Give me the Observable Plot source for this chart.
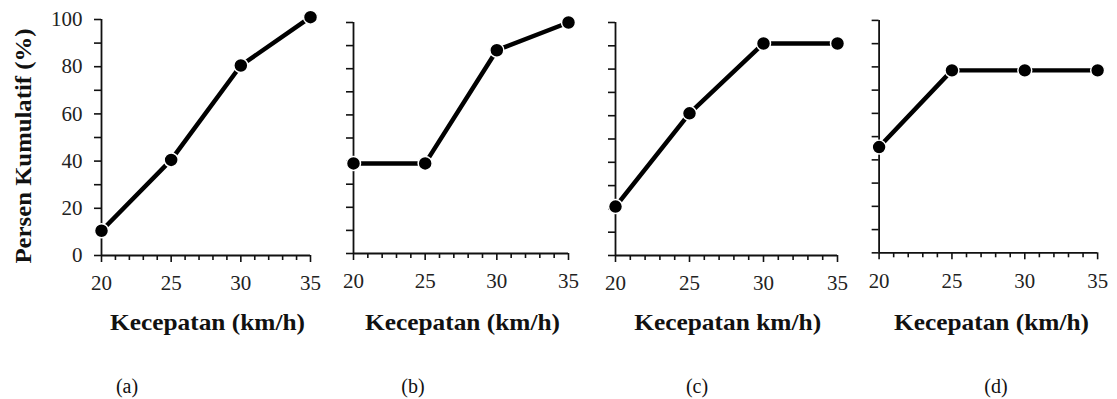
<!DOCTYPE html>
<html><head><meta charset="utf-8">
<script src="https://cdn.jsdelivr.net/npm/d3@7"></script>
<script src="https://cdn.jsdelivr.net/npm/@observablehq/plot@0.6"></script>
<style>
body{margin:0;background:#fff;}
#wrap{position:relative;width:1117px;height:399px;overflow:hidden;font-family:"Liberation Serif","Times New Roman",serif;color:#111;}
.panel{position:absolute;}
.panel svg{overflow:visible;}
.panel svg text{font-family:"Liberation Serif","Times New Roman",serif !important;}
.t{position:absolute;white-space:nowrap;line-height:1;font-family:"Liberation Serif","Times New Roman",serif;}
.xt{font-weight:bold;font-size:23px;}
.yt{font-weight:bold;font-size:24px;}
.cap{font-size:20px;}
</style></head><body><div id="wrap"></div>
<script>
// Data
const speeds = [20, 25, 30, 35];
const panelA = [10.5, 40.5, 80.5, 101];
const panelB = [39, 39, 88, 100];
const panelC = [21, 61, 91, 91];
const panelD = [45.5, 78.5, 78.5, 78.5];
const yMajorTicks = [0, 20, 40, 60, 80, 100];
const yMinorTicks = [10, 30, 50, 70, 90];
const xMajorTicks = [20, 25, 30, 35];
const xMinorTicks = [21, 22, 23, 24, 26, 27, 28, 29, 31, 32, 33, 34];
const yTitle = "Persen Kumulatif (%)";
const xTitles = ["Kecepatan (km/h)", "Kecepatan (km/h)", "Kecepatan km/h)", "Kecepatan (km/h)"];
const captions = ["(a)", "(b)", "(c)", "(d)"];
const series = [panelA, panelB, panelC, panelD];

// layout of each panel's plotting frame (left,right,top,bottom in page px)
const frames = [
  {l:101, r:310, t:19, b:255},
  {l:353, r:568, t:22, b:253},
  {l:615, r:837, t:22, b:255},
  {l:879, r:1099, t:20, b:254}
];
const captionX = [127, 413, 697, 996];
const serif = '"Liberation Serif", "Times New Roman", serif';

const wrap = document.getElementById("wrap");
const mL = 60, mR = 20, mT = 15, mB = 50;

series.forEach((vals, i) => {
  const f = frames[i];
  const data = speeds.map((s, k) => ({x: s, y: vals[k]}));
  const showY = i === 0;
  const chart = Plot.plot({
    width: mL + (f.r - f.l) + mR,
    height: mT + (f.b - f.t) + mB,
    marginLeft: mL, marginRight: mR, marginTop: mT, marginBottom: mB,
    x: {domain: [20, 35]},
    y: {domain: [0, 100]},
    style: {fontFamily: serif, fontSize: "21px", color: "#222", background: "transparent", overflow: "visible"},
    marks: [
      Plot.axisY(yMinorTicks, {tickSize: 7, stroke: "#111", strokeWidth: 1.6, tickFormat: () => "", label: null}),
      Plot.axisY(yMajorTicks, {tickSize: 7, stroke: "#111", strokeWidth: 1.6, tickPadding: 12, tickFormat: showY ? (d => d) : (() => ""), label: null}),
      Plot.axisX(xMinorTicks, {tickSize: 5, stroke: "#111", strokeWidth: 1.6, tickFormat: () => "", label: null}),
      Plot.axisX(xMajorTicks, {tickSize: 7, stroke: "#111", strokeWidth: 1.6, tickPadding: 13, tickFormat: d => d, label: null}),
      Plot.ruleX([20], {y1: 0, y2: 100, stroke: "#111", strokeWidth: 1.8}),
      Plot.ruleY([0], {x1: 20, x2: 35, stroke: "#111", strokeWidth: 1.8}),
      Plot.line(data, {x: "x", y: "y", stroke: "#000", strokeWidth: 4.5}),
      Plot.dot(data, {x: "x", y: "y", r: 7, fill: "#000", stroke: "#fff", strokeWidth: 1.5})
    ]
  });
  chart.querySelectorAll("text").forEach(t => { t.style.fontFamily = serif; t.setAttribute("fill", "#222"); });
  const div = document.createElement("div");
  div.className = "panel";
  div.style.left = (f.l - mL) + "px";
  div.style.top = (f.t - mT) + "px";
  div.appendChild(chart);
  wrap.appendChild(div);

  // x title
  const xt = document.createElement("div");
  xt.className = "t xt";
  xt.textContent = xTitles[i];
  wrap.appendChild(xt);
  const w = xt.getBoundingClientRect().width;
  const h = xt.getBoundingClientRect().height;
  const target = i === 2 ? 187 : 195;
  const sx = target / w;
  const cx = (f.l + f.r) / 2 + 2;
  xt.style.left = (cx - w / 2) + "px";
  xt.style.top = (322 - h / 2) + "px";
  xt.style.transform = `scaleX(${sx})`;

  // caption
  const cp = document.createElement("div");
  cp.className = "t cap";
  cp.textContent = captions[i];
  wrap.appendChild(cp);
  const cw = cp.getBoundingClientRect().width;
  const chh = cp.getBoundingClientRect().height;
  cp.style.left = (captionX[i] - cw / 2) + "px";
  cp.style.top = (386 - chh / 2) + "px";
});

// y title
const yt = document.createElement("div");
yt.className = "t yt";
yt.textContent = yTitle;
wrap.appendChild(yt);
const yw = yt.getBoundingClientRect().width;
const yh = yt.getBoundingClientRect().height;
yt.style.left = (23 - yw / 2) + "px";
yt.style.top = (146 - yh / 2) + "px";
yt.style.transform = `rotate(-90deg) scaleX(${235 / yw})`;
</script>
</body></html>
